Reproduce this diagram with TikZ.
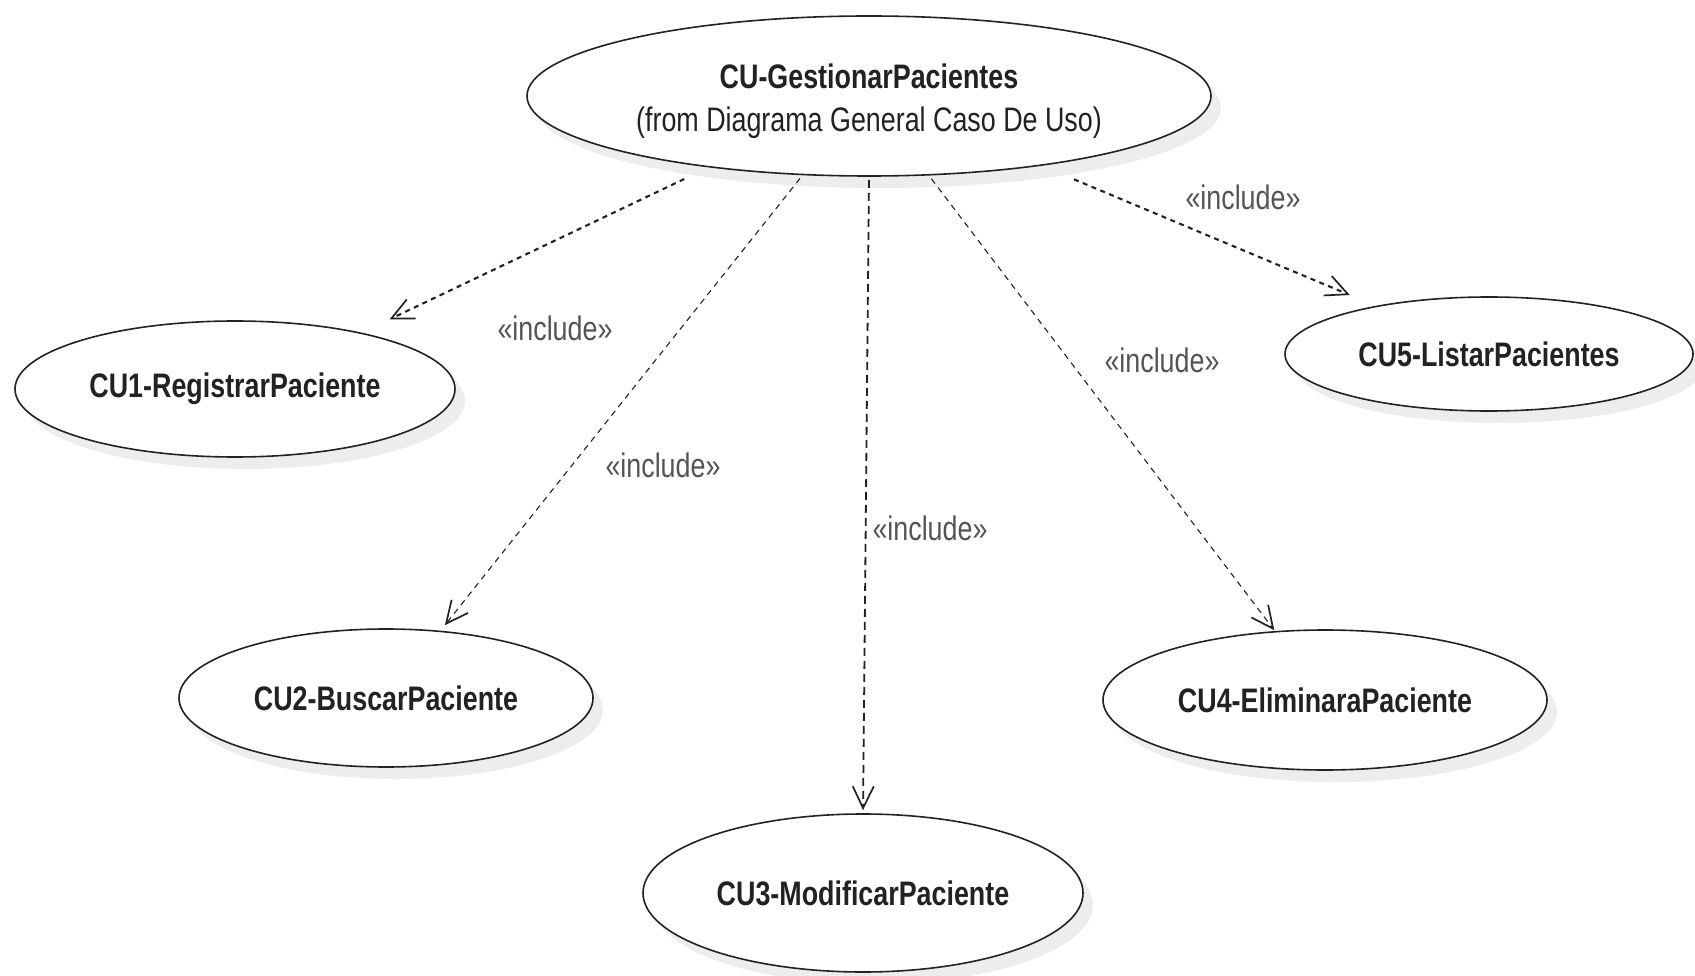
\documentclass[tikz,border=0pt]{standalone}
\usepackage{fontspec}
\setmainfont{Liberation Sans}[FakeStretch=0.79]
\usetikzlibrary{shapes.geometric,arrows.meta}
\definecolor{inkdark}{HTML}{222222}
\definecolor{labelgray}{HTML}{555555}
\definecolor{shadowgray}{HTML}{EDEDED}
\begin{document}
\begin{tikzpicture}[x=1pt,y=-1pt,
  usecase/.style={ellipse,draw=inkdark,line width=1.6pt,fill=white,inner sep=0pt,
    text=inkdark,font=\fontsize{34}{40}\selectfont\bfseries,align=center},
  ushadow/.style={fill=shadowgray,draw=none},
  incl/.style={-{Straight Barb[length=22pt,width=21pt,line width=1.7pt]},draw=inkdark},
  densedash/.style={line width=2.1pt,dash pattern=on 5pt off 4.5pt},
  thindash/.style={line width=1.1pt,dash pattern=on 6pt off 5pt},
  middash/.style={line width=1.8pt,dash pattern=on 8pt off 5pt},
  stereo/.style={text=labelgray,font=\fontsize{34}{40}\selectfont,inner sep=0pt}]
\useasboundingbox (0,0) rectangle (1695,976);
\fill[white] (0,0) rectangle (1695,976);

% soft drop shadows under the use cases
\foreach \cx/\cy/\rx/\ry in {869/96/342/80, 235/389/220/68, 386/698/207/69,
    863/893/220/79, 1325/700/222/70, 1489/354/204/57}
  \fill[ushadow] (\cx+10,\cy+12) ellipse[x radius=\rx,y radius=\ry];

% use cases
\node[usecase,minimum width=684pt,minimum height=160pt] (main) at (869,96)
  {\rule{0pt}{35pt}CU-GestionarPacientes\\[3pt]\mdseries(from Diagrama General Caso De Uso)};
\node[usecase,minimum width=440pt,minimum height=136pt] (cu1) at (235,389) {CU1-RegistrarPaciente};
\node[usecase,minimum width=414pt,minimum height=138pt] (cu2) at (386,698) {CU2-BuscarPaciente};
\node[usecase,minimum width=440pt,minimum height=158pt] (cu3) at (863,893) {CU3-ModificarPaciente};
\node[usecase,minimum width=444pt,minimum height=140pt] (cu4) at (1325,700) {CU4-EliminaraPaciente};
\node[usecase,minimum width=408pt,minimum height=114pt] (cu5) at (1489,354) {CU5-ListarPacientes};

% include dependencies
\draw[incl,densedash,shorten <=27pt,shorten >=31pt] (main.204) -- (cu1.24);
\draw[incl,thindash,shorten <=4pt,shorten >=7pt]    (main.230) -- (cu2.51);
\draw[incl,middash,shorten <=3pt,shorten >=3pt]     (main.270) -- (cu3.90);
\draw[incl,thindash,shorten <=4pt,shorten >=1pt]    (main.307) -- (cu4.126);
\draw[incl,densedash,shorten <=35pt,shorten >=28pt] (main.338) -- (cu5.157);

% stereotype labels
\node[stereo] (l1) at (555,328) {«include»};
\node[stereo] (l2) at (663,465) {«include»};
\node[stereo] (l3) at (930,528) {«include»};
\node[stereo] (l4) at (1162,360) {«include»};
\node[stereo] (l5) at (1243,197) {«include»};
\end{tikzpicture}
\end{document}
